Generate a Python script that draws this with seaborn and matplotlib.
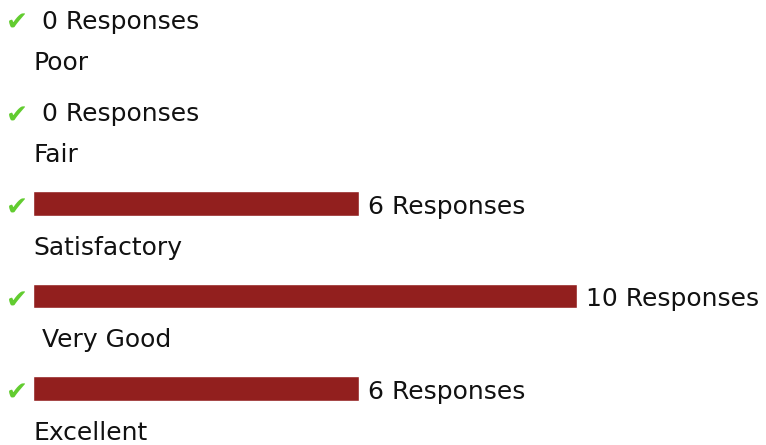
import matplotlib
matplotlib.use("Agg")
import matplotlib.pyplot as plt
from matplotlib.transforms import offset_copy
import seaborn as sns
import pandas as pd

# Survey results: rating categories and response counts
categories = ["Poor", "Fair", "Satisfactory", "Very Good", "Excellent"]
responses = [0, 0, 6, 10, 6]
label_indent_px = [0, 0, 0, 9, 0]

sns.set_theme(style="white")
plt.rcParams["font.family"] = ["DejaVu Sans"]

df = pd.DataFrame({"category": categories, "responses": responses})

fig = plt.figure(figsize=(7.66, 4.45), dpi=100)
ax = fig.add_axes([0, 0, 1, 1])

sns.barplot(data=df, x="responses", y="category", orient="h",
            color="#921f1e", saturation=1, width=0.262, ax=ax)

px_per_unit = 54.4
ax.set_xlim(-33 / px_per_unit, (766 - 33) / px_per_unit)
ax.set_ylim(4.61, -0.2)
ax.axis("off")

text_kw = dict(fontsize=18, color="#111111")
for i, (cat, val) in enumerate(zip(categories, responses)):
    # value caption right after the bar
    t = offset_copy(ax.transData, fig=fig, x=9, y=-3, units="dots")
    ax.text(val, i, f"{val} Responses", transform=t, ha="left",
            va="center", **text_kw)
    # check mark left of the bar
    tc = offset_copy(ax.transData, fig=fig, x=-16, y=-5, units="dots")
    ax.text(0, i, "\u2714", transform=tc, ha="center", va="center",
            fontsize=19, color="#62cc30")
    # category name under the bar
    tl = offset_copy(ax.transData, fig=fig, x=label_indent_px[i], y=-1,
                     units="dots")
    ax.text(0, i + 0.465, cat, transform=tl, ha="left", va="center",
            **text_kw)

fig.savefig("out.png", dpi=100)
